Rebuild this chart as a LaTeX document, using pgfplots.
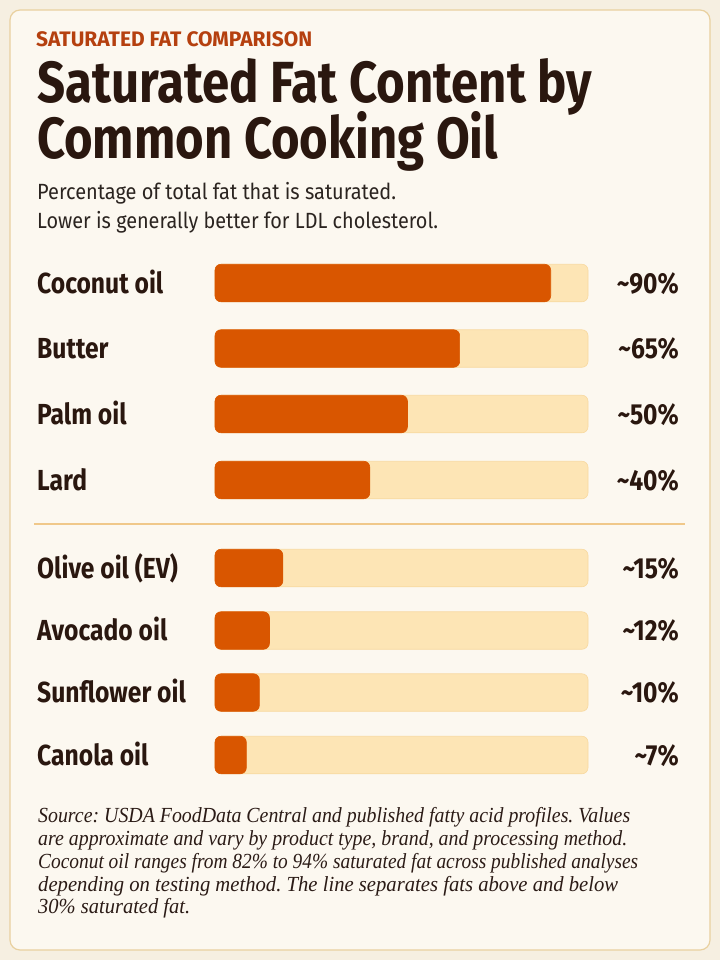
\documentclass[border=0pt]{standalone}
\usepackage{pgfplots}
\pgfplotsset{compat=1.18}
\usepackage{fontspec}
\usepackage{graphicx}
\setmainfont{Fira Sans}
\newfontfamily\condfont[FakeStretch=0.80]{Fira Sans}
\newfontfamily\labelfont[FakeStretch=0.85]{Fira Sans}
\newfontfamily\notefont{Liberation Serif}
\definecolor{outerbg}{HTML}{F6EFE1}
\definecolor{cardbg}{HTML}{FCF8F0}
\definecolor{cardedge}{HTML}{E9D09F}
\definecolor{overline}{HTML}{B5400F}
\definecolor{titlecol}{HTML}{2A170F}
\definecolor{subcol}{HTML}{2B2420}
\definecolor{track}{HTML}{FDE5B5}
\definecolor{trackedge}{HTML}{F8D9A0}
\definecolor{barfill}{HTML}{D95600}
\definecolor{sepcol}{HTML}{F0C88A}
\definecolor{notecol}{HTML}{2B1B16}
\frenchspacing
\begin{document}
\begin{tikzpicture}
% page and card
\fill[outerbg] (0pt,0pt) rectangle (720pt,-960pt);
\draw[fill=cardbg, draw=cardedge, line width=1.2pt, rounded corners=10pt] (10pt,-10pt) rectangle (710pt,-950pt);
% header
\node[anchor=base west, inner sep=0pt, text=overline] at (36pt,-47pt)
  {\resizebox{276pt}{\height}{\condfont\bfseries\fontsize{21}{21}\selectfont SATURATED FAT COMPARISON}};
\node[anchor=base west, inner sep=0pt, text=titlecol] at (37pt,-103pt)
  {\resizebox{555pt}{\height}{\condfont\bfseries\fontsize{58}{58}\selectfont Saturated Fat Content by}};
\node[anchor=base west, inner sep=0pt, text=titlecol] at (37pt,-159pt)
  {\resizebox{461pt}{\height}{\condfont\bfseries\fontsize{58}{58}\selectfont Common Cooking Oil}};
\node[anchor=base west, inner sep=0pt, text=subcol] at (37pt,-200pt)
  {\resizebox{359pt}{\height}{\condfont\fontsize{22}{22}\selectfont Percentage of total fat that is saturated.}};
\node[anchor=base west, inner sep=0pt, text=subcol] at (37pt,-228pt)
  {\resizebox{401pt}{\height}{\condfont\fontsize{22}{22}\selectfont Lower is generally better for LDL cholesterol.}};
% separator
\draw[sepcol, line width=1.5pt] (34pt,-524pt) -- (685pt,-524pt);
% bars
\begin{axis}[at={(215pt,-790pt)}, anchor=south west, scale only axis,
  width=373pt, height=540pt, xmin=0, xmax=100, ymin=250, ymax=790,
  y dir=reverse, hide axis, clip=false, xbar, bar width=37.5pt, bar shift=0pt]
\addplot[fill=track, draw=trackedge, line width=0.6pt, rounded corners=6pt]
  coordinates {(100,283) (100,348.5) (100,414) (100,480) (100,568) (100,630.5) (100,692.5) (100,755)};
\addplot[fill=barfill, draw=barfill, line width=0.6pt, rounded corners=6pt]
  coordinates {(90,283) (65.6,348.5) (51.6,414) (41.5,480) (18.2,568) (14.6,630.5) (11.9,692.5) (8.4,755)};
\end{axis}
% labels
\begin{scope}[every node/.style={inner sep=0pt, text=titlecol, font=\labelfont\bfseries\fontsize{29}{29}\selectfont}]
\node[anchor=base west] at (37pt,-293pt) {Coconut oil};
\node[anchor=base west] at (37pt,-358.5pt) {Butter};
\node[anchor=base west] at (37pt,-424pt) {Palm oil};
\node[anchor=base west] at (37pt,-490pt) {Lard};
\node[anchor=base west] at (37pt,-578pt) {Olive oil (EV)};
\node[anchor=base west] at (37pt,-640.5pt) {Avocado oil};
\node[anchor=base west] at (37pt,-702.5pt) {Sunflower oil};
\node[anchor=base west] at (37pt,-765pt) {Canola oil};
\node[anchor=base east] at (679pt,-293pt) {\char`~90\%};
\node[anchor=base east] at (679pt,-358.5pt) {\char`~65\%};
\node[anchor=base east] at (679pt,-424pt) {\char`~50\%};
\node[anchor=base east] at (679pt,-490pt) {\char`~40\%};
\node[anchor=base east] at (679pt,-578pt) {\char`~15\%};
\node[anchor=base east] at (679pt,-640.5pt) {\char`~12\%};
\node[anchor=base east] at (679pt,-702.5pt) {\char`~10\%};
\node[anchor=base east] at (679pt,-765pt) {\char`~7\%};
\end{scope}
% footnote
\begin{scope}[every node/.style={inner sep=0pt, text=notecol, anchor=base west}]
\node at (38pt,-822.5pt) {\resizebox{592pt}{\height}{\notefont\itshape\fontsize{21.5}{21.5}\selectfont Source: USDA FoodData Central and published fatty acid profiles. Values}};
\node at (38pt,-845.5pt) {\resizebox{589pt}{\height}{\notefont\itshape\fontsize{21.5}{21.5}\selectfont are approximate and vary by product type, brand, and processing method.}};
\node at (38pt,-868pt) {\resizebox{600pt}{\height}{\notefont\itshape\fontsize{21.5}{21.5}\selectfont Coconut oil ranges from 82\% to 94\% saturated fat across published analyses}};
\node at (38pt,-891pt) {\resizebox{580pt}{\height}{\notefont\itshape\fontsize{21.5}{21.5}\selectfont depending on testing method. The line separates fats above and below}};
\node at (38pt,-913.5pt) {\resizebox{152pt}{\height}{\notefont\itshape\fontsize{21.5}{21.5}\selectfont 30\% saturated fat.}};
\end{scope}
\end{tikzpicture}
\end{document}
